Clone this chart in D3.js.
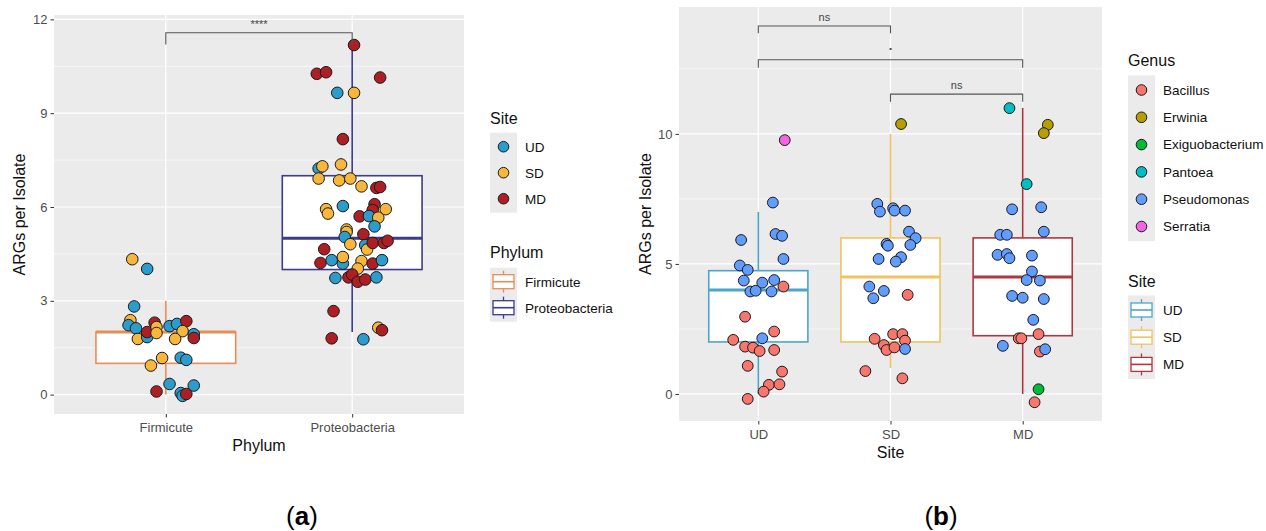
<!DOCTYPE html>
<html>
<head>
<meta charset="utf-8">
<script src="https://cdn.jsdelivr.net/npm/d3@7"></script>
<style>
  body { margin: 0; background: #fff; }
  text { font-family: "Liberation Sans", Arial, sans-serif; }
</style>
</head>
<body>
<svg id="chart" width="1266" height="531"></svg>
<script>
// ---------- panel (a) data ----------
var phyla = ["Firmicute", "Proteobacteria"];
var sitesA = ["UD", "SD", "MD"];
var siteColorsA = ["#2b9ccc", "#f6b73c", "#ad1f24"];
var phylumColors = ["#e98d55", "#3c3b8c"];
// box stats: [lower whisker, q1, median, q3, upper whisker]
var phylumBoxes = [[0, 1, 2, 2, 3], [2, 4, 5, 7, 11.2]];
var ticksA = [0, 3, 6, 9, 12];
// points: [value, jitter (category units), site]
var firmicutePts = [
  [4.33, -0.18, "SD"], [4.02, -0.10, "UD"], [2.82, -0.17, "UD"], [2.38, -0.19, "SD"],
  [2.22, -0.20, "UD"], [2.12, -0.16, "UD"], [1.78, -0.15, "SD"], [1.84, -0.10, "UD"],
  [2.00, -0.10, "MD"], [2.30, -0.06, "MD"], [2.16, -0.05, "SD"], [1.97, -0.05, "SD"],
  [2.19, 0.02, "UD"], [2.26, 0.06, "UD"], [2.35, 0.11, "MD"], [2.03, 0.09, "SD"],
  [1.78, 0.05, "SD"], [1.93, 0.15, "UD"], [1.81, 0.15, "MD"], [1.17, -0.02, "SD"],
  [0.93, -0.08, "SD"], [1.18, 0.08, "UD"], [1.11, 0.11, "UD"], [0.34, 0.02, "UD"],
  [0.10, -0.05, "MD"], [0.29, 0.15, "UD"], [0.05, 0.08, "UD"], [-0.04, 0.09, "UD"],
  [0.02, 0.11, "MD"]
];
var proteoPts = [
  [11.18, 0.01, "MD"], [10.26, -0.19, "MD"], [10.31, -0.14, "MD"], [10.14, 0.15, "MD"],
  [9.65, -0.08, "UD"], [9.65, 0.01, "SD"], [8.17, -0.05, "MD"], [7.23, -0.18, "UD"],
  [7.30, -0.16, "SD"], [7.36, -0.06, "SD"], [6.91, -0.18, "SD"], [6.85, -0.07, "SD"],
  [6.91, -0.01, "SD"], [6.66, 0.05, "SD"], [6.61, 0.13, "MD"], [6.64, 0.15, "MD"],
  [5.93, -0.14, "SD"], [5.79, -0.13, "SD"], [6.03, -0.05, "UD"], [5.70, 0.04, "MD"],
  [6.09, 0.12, "MD"], [5.90, 0.11, "MD"], [5.93, 0.18, "SD"], [5.71, 0.09, "UD"],
  [5.66, 0.14, "SD"], [5.38, 0.12, "UD"], [5.28, -0.03, "SD"], [5.20, -0.03, "SD"],
  [5.04, -0.04, "UD"], [4.81, -0.01, "SD"], [5.13, 0.06, "MD"], [4.78, 0.07, "UD"],
  [4.64, 0.08, "SD"], [4.85, 0.11, "MD"], [4.85, 0.17, "MD"], [4.92, 0.19, "MD"],
  [4.65, -0.15, "MD"], [4.21, -0.17, "MD"], [4.30, -0.11, "UD"], [4.19, -0.05, "UD"],
  [4.40, -0.05, "SD"], [4.27, 0.05, "SD"], [4.03, 0.03, "SD"], [4.19, 0.11, "MD"],
  [4.30, 0.16, "UD"], [3.73, -0.09, "UD"], [3.75, -0.02, "MD"], [3.84, 0.00, "MD"],
  [3.61, 0.03, "MD"], [3.68, 0.07, "MD"], [3.75, 0.13, "UD"], [2.67, -0.10, "MD"],
  [2.14, 0.14, "SD"], [2.06, 0.16, "MD"], [1.80, -0.11, "MD"], [1.77, 0.06, "UD"]
];
// brackets: [from, to, y, tip end, label]
var bracketsA = [[1, 2, 11.57, 11.2, "****"]];

// ---------- panel (b) data ----------
var sitesB = ["UD", "SD", "MD"];
var siteColorsB = ["#4aa6cb", "#f3c160", "#b03640"];
var genera = ["Bacillus", "Erwinia", "Exiguobacterium", "Pantoea", "Pseudomonas", "Serratia"];
var genusColors = ["#f8766d", "#b79f00", "#00ba38", "#00bfc4", "#619cff", "#f564e3"];
var siteBoxes = [[0, 2, 4, 4.74, 7], [1, 2, 4.5, 6, 10], [0, 2.24, 4.5, 6, 11]];
var ticksB = [0, 5, 10];
var udPts = [
  [9.76, 0.20, "Serratia"], [7.36, 0.11, "Pseudomonas"], [5.92, -0.13, "Pseudomonas"],
  [6.15, 0.13, "Pseudomonas"], [6.08, 0.18, "Pseudomonas"], [5.19, 0.19, "Pseudomonas"],
  [4.94, -0.14, "Pseudomonas"], [4.77, -0.08, "Pseudomonas"], [4.36, -0.11, "Pseudomonas"],
  [3.94, -0.06, "Pseudomonas"], [3.97, -0.02, "Pseudomonas"], [4.28, 0.03, "Pseudomonas"],
  [3.94, 0.10, "Pseudomonas"], [4.38, 0.12, "Pseudomonas"], [4.13, 0.19, "Bacillus"],
  [2.97, -0.10, "Bacillus"], [2.40, 0.12, "Bacillus"], [2.14, 0.03, "Pseudomonas"],
  [2.08, -0.19, "Bacillus"], [1.82, -0.10, "Bacillus"], [1.78, -0.04, "Bacillus"],
  [1.65, 0.01, "Bacillus"], [1.69, 0.12, "Bacillus"], [1.08, -0.08, "Bacillus"],
  [0.86, 0.18, "Bacillus"], [0.35, 0.08, "Bacillus"], [0.37, 0.16, "Bacillus"],
  [0.09, 0.04, "Bacillus"], [-0.19, -0.08, "Bacillus"]
];
var sdPts = [
  [10.38, 0.08, "Erwinia"], [7.31, -0.10, "Pseudomonas"], [7.01, -0.08, "Pseudomonas"],
  [7.14, 0.02, "Pseudomonas"], [7.05, 0.03, "Pseudomonas"], [7.05, 0.11, "Pseudomonas"],
  [6.24, 0.14, "Pseudomonas"], [5.99, 0.19, "Pseudomonas"], [5.73, 0.15, "Pseudomonas"],
  [5.77, -0.03, "Pseudomonas"], [5.70, -0.02, "Pseudomonas"], [5.19, -0.09, "Pseudomonas"],
  [5.26, 0.08, "Pseudomonas"], [5.09, 0.04, "Pseudomonas"], [4.13, -0.16, "Pseudomonas"],
  [3.96, -0.05, "Pseudomonas"], [3.68, -0.13, "Pseudomonas"], [3.81, 0.13, "Bacillus"],
  [2.12, -0.12, "Bacillus"], [2.30, 0.02, "Bacillus"], [2.30, 0.09, "Bacillus"],
  [2.05, 0.11, "Bacillus"], [1.88, -0.05, "Bacillus"], [1.69, -0.03, "Bacillus"],
  [1.79, 0.03, "Bacillus"], [1.73, 0.11, "Pseudomonas"], [0.88, -0.19, "Bacillus"],
  [0.60, 0.09, "Bacillus"]
];
var mdPts = [
  [10.99, -0.10, "Pantoea"], [10.35, 0.19, "Erwinia"], [10.03, 0.16, "Erwinia"],
  [8.07, 0.03, "Pantoea"], [7.10, -0.08, "Pseudomonas"], [7.18, 0.14, "Pseudomonas"],
  [6.24, 0.16, "Pseudomonas"], [6.12, -0.17, "Pseudomonas"], [6.12, -0.12, "Pseudomonas"],
  [5.35, -0.19, "Pseudomonas"], [5.38, -0.12, "Pseudomonas"], [5.22, -0.10, "Pseudomonas"],
  [5.32, 0.07, "Pseudomonas"], [4.71, 0.07, "Pseudomonas"], [4.38, 0.03, "Pseudomonas"],
  [4.36, 0.13, "Pseudomonas"], [3.77, -0.08, "Pseudomonas"], [3.70, 0.00, "Pseudomonas"],
  [3.65, 0.16, "Pseudomonas"], [2.85, 0.08, "Pseudomonas"], [2.14, -0.03, "Bacillus"],
  [2.14, -0.01, "Bacillus"], [2.30, 0.12, "Bacillus"], [1.85, -0.15, "Pseudomonas"],
  [1.63, 0.13, "Bacillus"], [1.72, 0.17, "Pseudomonas"], [0.18, 0.12, "Exiguobacterium"],
  [-0.32, 0.09, "Bacillus"]
];
var bracketsB = [[1, 2, 14.15, 13.87, "ns"], [1, 3, 12.85, 12.54, "."], [2, 3, 11.53, 11.24, "ns"]];

var svg = d3.select("#chart");

function drawPanel(opt) {
  var x = opt.x, y = opt.y;
  var g = svg.append("g");
  var x0 = x.range()[0], x1 = x.range()[1], yTop = y.range()[1], yBot = y.range()[0];

  g.append("rect").attr("x", x0).attr("y", yTop)
    .attr("width", x1 - x0).attr("height", yBot - yTop).attr("fill", "#ebebeb");

  // minor + major grid
  g.selectAll(".minor").data(opt.minor).enter().append("line")
    .attr("x1", x0).attr("x2", x1).attr("y1", y).attr("y2", y)
    .attr("stroke", "#fff").attr("stroke-width", 0.6);
  g.selectAll(".major").data(opt.ticks).enter().append("line")
    .attr("x1", x0).attr("x2", x1).attr("y1", y).attr("y2", y)
    .attr("stroke", "#fff").attr("stroke-width", 1.2);
  g.selectAll(".vmajor").data(opt.cats).enter().append("line")
    .attr("x1", function(d, i) { return x(i + 1); }).attr("x2", function(d, i) { return x(i + 1); })
    .attr("y1", yTop).attr("y2", yBot)
    .attr("stroke", "#fff").attr("stroke-width", 1.2);

  // axes
  var ya = g.append("g").attr("transform", "translate(" + x0 + ",0)")
    .call(d3.axisLeft(y).tickValues(opt.ticks).tickSize(3.5).tickPadding(3));
  var xa = g.append("g").attr("transform", "translate(0," + yBot + ")")
    .call(d3.axisBottom(x).tickValues(opt.cats.map(function(d, i) { return i + 1; }))
      .tickSize(3.5).tickPadding(5).tickFormat(function(d) { return opt.cats[d - 1]; }));
  [ya, xa].forEach(function(a) {
    a.select(".domain").remove();
    a.selectAll(".tick line").attr("stroke", "#333");
    a.selectAll(".tick text").attr("fill", "#4d4d4d").style("font-size", "13px")
      .style("font-family", "'Liberation Sans', Arial, sans-serif");
  });

  // boxes
  var bw = 0.375;
  opt.boxes.forEach(function(b, i) {
    var c = i + 1, col = opt.boxColors[i];
    g.append("line").attr("x1", x(c)).attr("x2", x(c)).attr("y1", y(b[0])).attr("y2", y(b[1]))
      .attr("stroke", col).attr("stroke-width", 1.6);
    g.append("line").attr("x1", x(c)).attr("x2", x(c)).attr("y1", y(b[3])).attr("y2", y(b[4]))
      .attr("stroke", col).attr("stroke-width", 1.6);
    g.append("rect").attr("x", x(c - bw)).attr("y", y(b[3]))
      .attr("width", x(c + bw) - x(c - bw)).attr("height", y(b[1]) - y(b[3]))
      .attr("fill", "#fff").attr("stroke", col).attr("stroke-width", 1.6);
    g.append("line").attr("x1", x(c - bw)).attr("x2", x(c + bw)).attr("y1", y(b[2])).attr("y2", y(b[2]))
      .attr("stroke", col).attr("stroke-width", 3);
  });

  // points
  opt.points.forEach(function(pts, i) {
    g.selectAll(null).data(pts).enter().append("circle")
      .attr("cx", function(d) { return x(i + 1 + d[1]); })
      .attr("cy", function(d) { return y(d[0]); })
      .attr("r", opt.r)
      .attr("fill", function(d) { return opt.color(d[2]); })
      .attr("stroke", "#1a1a1a").attr("stroke-width", 1);
  });

  // significance brackets
  opt.brackets.forEach(function(b) {
    var xa1 = x(b[0]), xa2 = x(b[1]);
    var dot = b[4] === ".";
    g.append("path")
      .attr("d", "M" + xa1 + "," + y(b[3]) + "V" + y(b[2]) + "H" + xa2 + "V" + y(b[3]))
      .attr("fill", "none").attr("stroke", "#555").attr("stroke-width", 1.1);
    g.append("text").attr("x", (xa1 + xa2) / 2).attr("y", y(b[2]) - (dot ? 10 : 5))
      .attr("text-anchor", "middle").attr("fill", "#444")
      .style("font-size", dot ? "13px" : "11px")
      .style("font-weight", dot ? "bold" : "normal")
      .text(b[4]);
  });

  // axis titles
  g.append("text").attr("x", (x0 + x1) / 2).attr("y", opt.xTitleY).attr("text-anchor", "middle")
    .style("font-size", "16px").attr("fill", "#111").text(opt.xTitle);
  g.append("text").attr("transform", "translate(" + opt.yTitleX + "," + (yTop + yBot) / 2 + ") rotate(-90)")
    .attr("text-anchor", "middle").style("font-size", "16px").attr("fill", "#111").text("ARGs per Isolate");
}

function legend(lx, titleY, title, labels, keyY0, step, drawKey) {
  var g = svg.append("g");
  g.append("text").attr("x", lx).attr("y", titleY).style("font-size", "16px").attr("fill", "#111").text(title);
  g.append("rect").attr("x", lx).attr("y", keyY0 - step / 2 - 1)
    .attr("width", 27).attr("height", step * labels.length + 2).attr("fill", "#ebebeb");
  labels.forEach(function(l, i) {
    var cy = keyY0 + i * step;
    drawKey(g, lx + 13.5, cy, i);
    g.append("text").attr("x", lx + 35).attr("y", cy + 4.8).style("font-size", "13.5px")
      .attr("fill", "#111").text(l);
  });
}
function dotKey(colors) {
  return function(g, cx, cy, i) {
    g.append("circle").attr("cx", cx).attr("cy", cy).attr("r", 5.3)
      .attr("fill", colors[i]).attr("stroke", "#1a1a1a").attr("stroke-width", 1);
  };
}
function boxKey(colors) {
  return function(g, cx, cy, i) {
    var c = colors[i];
    g.append("line").attr("x1", cx).attr("x2", cx).attr("y1", cy - 11).attr("y2", cy + 11)
      .attr("stroke", c).attr("stroke-width", 1.3);
    g.append("rect").attr("x", cx - 10.5).attr("y", cy - 7).attr("width", 21).attr("height", 14)
      .attr("fill", "#fff").attr("stroke", c).attr("stroke-width", 1.3);
    g.append("line").attr("x1", cx - 10.5).attr("x2", cx + 10.5).attr("y1", cy).attr("y2", cy)
      .attr("stroke", c).attr("stroke-width", 1.6);
  };
}

var siteColA = d3.scaleOrdinal().domain(sitesA).range(siteColorsA);
drawPanel({
  x: d3.scaleLinear().domain([0.4, 2.6]).range([54, 464]),
  y: d3.scaleLinear().domain([-0.62, 12.14]).range([414, 15]),
  cats: phyla, ticks: ticksA, minor: [1.5, 4.5, 7.5, 10.5],
  boxes: phylumBoxes, boxColors: phylumColors,
  points: [firmicutePts, proteoPts], color: siteColA, r: 5.8,
  brackets: bracketsA, xTitle: "Phylum", xTitleY: 451, yTitleX: 25
});
legend(490, 124, "Site", sitesA, 146.7, 26, dotKey(siteColorsA));
legend(490, 258, "Phylum", phyla, 281.7, 26, boxKey(phylumColors));

var genusCol = d3.scaleOrdinal().domain(genera).range(genusColors);
drawPanel({
  x: d3.scaleLinear().domain([0.4, 3.6]).range([679, 1102]),
  y: d3.scaleLinear().domain([-1.04, 14.88]).range([421, 7]),
  cats: sitesB, ticks: ticksB, minor: [2.5, 7.5, 12.5],
  boxes: siteBoxes, boxColors: siteColorsB,
  points: [udPts, sdPts, mdPts], color: genusCol, r: 5.4,
  brackets: bracketsB, xTitle: "Site", xTitleY: 458, yTitleX: 651
});
legend(1128, 66, "Genus", genera, 90, 27.3, dotKey(genusColors));
legend(1128, 287, "Site", sitesB, 310, 27.2, boxKey(siteColorsB));

// panel labels
[["a", 302], ["b", 941]].forEach(function(p) {
  var t = svg.append("text").attr("x", p[1]).attr("y", 525).attr("text-anchor", "middle")
    .style("font-size", "26px").attr("fill", "#000");
  t.append("tspan").text("(");
  t.append("tspan").style("font-weight", "bold").text(p[0]);
  t.append("tspan").text(")");
});
</script>
</body>
</html>
